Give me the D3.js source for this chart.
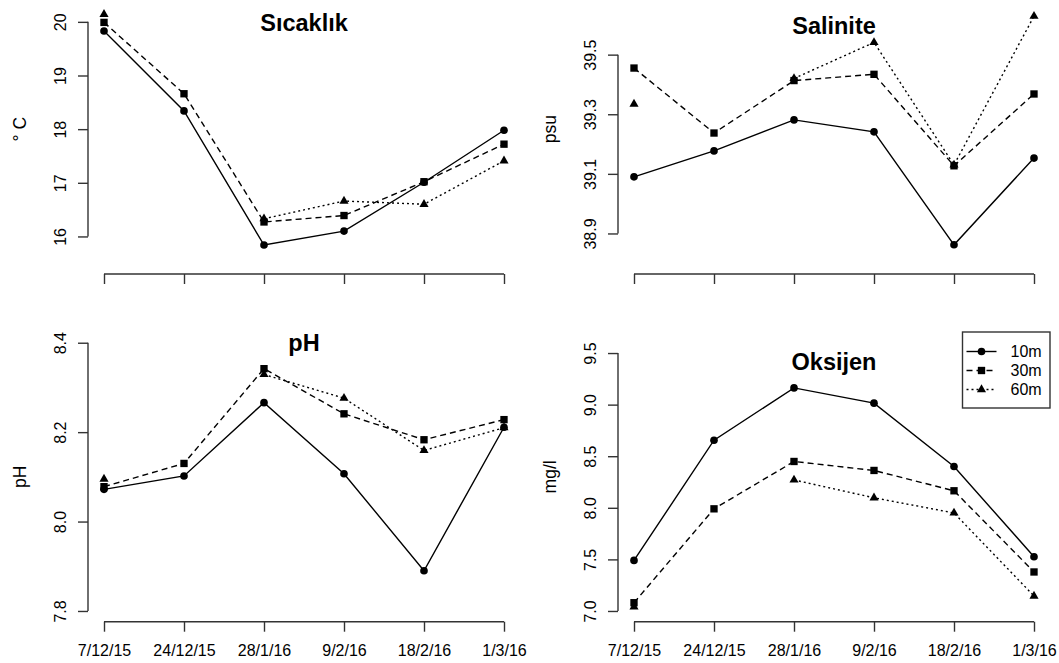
<!DOCTYPE html>
<html>
<head>
<meta charset="utf-8">
<script src="https://cdn.jsdelivr.net/npm/d3@7"></script>
<style>
  html, body { margin: 0; padding: 0; background: #fff; }
  svg { display: block; font-family: "Liberation Sans", Arial, Helvetica, sans-serif; }
</style>
</head>
<body>
<svg id="chart" width="1059" height="663"></svg>
<script>
// ---------- data ----------
const dates = ["7/12/15", "24/12/15", "28/1/16", "9/2/16", "18/2/16", "1/3/16"];
const depths = ["10m", "30m", "60m"];

const tempTitle = "Sıcaklık", tempUnit = "° C";
const temp10 = [19.83, 18.34, 15.84, 16.10, 17.01, 17.98];
const temp30 = [19.99, 18.66, 16.27, 16.39, 17.02, 17.72];
const temp60 = [20.14, null, 16.33, 16.66, 16.60, 17.41];
const tempTicks = [16, 17, 18, 19, 20];
const tempTickLabels = ["16", "17", "18", "19", "20"];
const tempLim = [15.5, 20.5];

const salTitle = "Salinite", salUnit = "psu";
const sal10 = [39.09, 39.177, 39.281, 39.241, 38.862, 39.153];
const sal30 = [39.455, 39.237, 39.413, 39.434, 39.127, 39.368];
const sal60 = [39.334, null, 39.42, 39.541, 39.13, 39.629];
const salTicks = [38.9, 39.1, 39.3, 39.5];
const salTickLabels = ["38.9", "39.1", "39.3", "39.5"];
const salLim = [38.8, 39.7];

const phTitle = "pH", phUnit = "pH";
const ph10 = [8.072, 8.102, 8.266, 8.107, 7.890, 8.211];
const ph30 = [8.078, 8.130, 8.342, 8.241, 8.183, 8.228];
const ph60 = [8.095, null, 8.329, 8.276, 8.159, 8.210];
const phTicks = [7.8, 8.0, 8.2, 8.4];
const phTickLabels = ["7.8", "8.0", "8.2", "8.4"];
const phLim = [7.8, 8.4];

const oxTitle = "Oksijen", oxUnit = "mg/l";
const ox10 = [7.49, 8.655, 9.162, 9.014, 8.40, 7.526];
const ox30 = [7.08, 7.99, 8.449, 8.362, 8.165, 7.378];
const ox60 = [7.04, null, 8.27, 8.097, 7.95, 7.145];
const oxTicks = [7.0, 7.5, 8.0, 8.5, 9.0, 9.5];
const oxTickLabels = ["7.0", "7.5", "8.0", "8.5", "9.0", "9.5"];
const oxLim = [7.0, 9.6];

// ---------- layout / style ----------
const cols = [{ left: 88, right: 520 }, { left: 618, right: 1050 }];
const rows = [{ top: -15.7, bottom: 274, xLabels: false }, { top: 332, bottom: 621.7, xLabels: true }];
const titleBaselines = [30.5, 33.5, 350.5, 370];
const dashes = [null, "6,4", "2,3"];
const symbols = [d3.symbolCircle, d3.symbolSquare, d3.symbolTriangle];
const symbolSizes = [46, 54, 36];
const axisColor = "#333";

const panels = [
  { title: tempTitle, unit: tempUnit, series: [temp10, temp30, temp60], ticks: tempTicks, tickLabels: tempTickLabels, lim: tempLim, col: 0, row: 0 },
  { title: salTitle, unit: salUnit, series: [sal10, sal30, sal60], ticks: salTicks, tickLabels: salTickLabels, lim: salLim, col: 1, row: 0 },
  { title: phTitle, unit: phUnit, series: [ph10, ph30, ph60], ticks: phTicks, tickLabels: phTickLabels, lim: phLim, col: 0, row: 1 },
  { title: oxTitle, unit: oxUnit, series: [ox10, ox30, ox60], ticks: oxTicks, tickLabels: oxTickLabels, lim: oxLim, col: 1, row: 1, legend: true }
];

const svg = d3.select("#chart");

panels.forEach((p, pi) => {
  const c = cols[p.col], r = rows[p.row];
  const g = svg.append("g");
  const n = dates.length;
  const x = d3.scaleLinear()
    .domain([1 - 0.04 * (n - 1), n + 0.04 * (n - 1)])
    .range([c.left, c.right]);
  const span = p.lim[1] - p.lim[0];
  const y = d3.scaleLinear()
    .domain([p.lim[0] - 0.04 * span, p.lim[1] + 0.04 * span])
    .range([r.bottom, r.top]);

  // x axis (R style: line spanning ticks)
  const xAxis = d3.axisBottom(x)
    .tickValues(d3.range(1, n + 1))
    .tickSize(10)
    .tickSizeOuter(0)
    .tickFormat(r.xLabels ? (d => dates[d - 1]) : (() => ""));
  const gx = g.append("g").attr("transform", `translate(0,${r.bottom})`).call(xAxis);
  gx.select(".domain").attr("d", `M${x(1)},0H${x(n)}`).attr("stroke", axisColor).attr("stroke-width", 1.4);
  gx.selectAll(".tick line").attr("stroke", axisColor).attr("stroke-width", 1.4);
  gx.selectAll(".tick text")
    .attr("y", 0).attr("dy", 0)
    .attr("transform", "translate(0,34)")
    .attr("fill", "#000")
    .style("font-size", "16px")
    .style("font-family", "'Liberation Sans', Arial, sans-serif");

  // y axis
  const yAxis = d3.axisLeft(y)
    .tickValues(p.ticks)
    .tickSize(10)
    .tickSizeOuter(0)
    .tickFormat((d, i) => p.tickLabels[i]);
  const gy = g.append("g").attr("transform", `translate(${c.left},0)`).call(yAxis);
  gy.select(".domain")
    .attr("d", `M0,${y(p.ticks[0])}V${y(p.ticks[p.ticks.length - 1])}`)
    .attr("stroke", axisColor).attr("stroke-width", 1.4);
  gy.selectAll(".tick line").attr("stroke", axisColor).attr("stroke-width", 1.4);
  gy.selectAll(".tick text")
    .attr("x", 0).attr("dy", 0)
    .attr("text-anchor", "middle")
    .attr("transform", "translate(-22.5,0) rotate(-90)")
    .attr("fill", "#000")
    .style("font-size", "16px")
    .style("font-family", "'Liberation Sans', Arial, sans-serif");

  // y label
  g.append("text")
    .attr("transform", `translate(${c.left - 62},${(r.top + r.bottom) / 2}) rotate(-90)`)
    .attr("text-anchor", "middle")
    .style("font-size", "17.5px")
    .text(p.unit);

  // title
  g.append("text")
    .attr("x", (c.left + c.right) / 2)
    .attr("y", titleBaselines[pi])
    .attr("text-anchor", "middle")
    .style("font-size", "23.5px")
    .style("font-weight", "bold")
    .text(p.title);

  // series
  p.series.forEach((vals, si) => {
    const pts = vals.map((v, i) => ({ i: i + 1, v }));
    const line = d3.line()
      .defined(d => d.v != null)
      .x(d => x(d.i))
      .y(d => y(d.v));
    g.append("path")
      .datum(pts)
      .attr("d", line)
      .attr("fill", "none")
      .attr("stroke", "#000")
      .attr("stroke-width", 1.4)
      .attr("stroke-dasharray", dashes[si]);
    g.selectAll(null)
      .data(pts.filter(d => d.v != null))
      .enter().append("path")
      .attr("d", d3.symbol().type(symbols[si]).size(symbolSizes[si]))
      .attr("transform", d => `translate(${x(d.i)},${y(d.v)})`)
      .attr("fill", "#000");
  });

  // legend
  if (p.legend) {
    const lg = g.append("g");
    const bx0 = 962.5, bx1 = c.right, by0 = r.top, by1 = 408;
    lg.append("rect")
      .attr("x", bx0).attr("y", by0)
      .attr("width", bx1 - bx0).attr("height", by1 - by0)
      .attr("fill", "#fff").attr("stroke", axisColor).attr("stroke-width", 1.4);
    depths.forEach((dname, si) => {
      const ly = by0 + 19.5 + si * 19;
      lg.append("line")
        .attr("x1", 966.5).attr("x2", 996.5)
        .attr("y1", ly).attr("y2", ly)
        .attr("stroke", "#000").attr("stroke-width", 1.4)
        .attr("stroke-dasharray", dashes[si]);
      lg.append("path")
        .attr("d", d3.symbol().type(symbols[si]).size(symbolSizes[si]))
        .attr("transform", `translate(981.5,${ly})`)
        .attr("fill", "#000");
      lg.append("text")
        .attr("x", 1010.5).attr("y", ly).attr("dy", "0.36em")
        .style("font-size", "16px")
        .text(dname);
    });
  }
});
</script>
</body>
</html>
